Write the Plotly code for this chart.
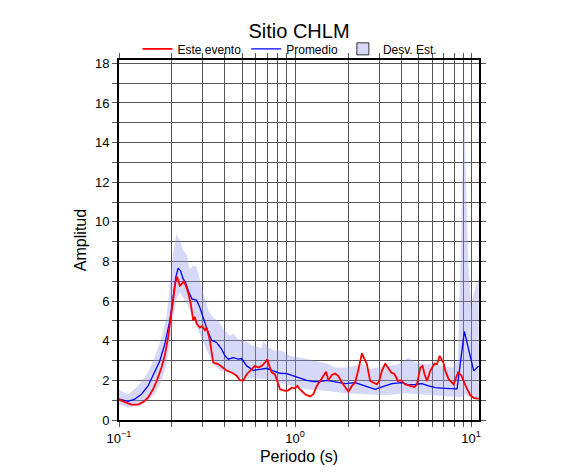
import plotly.graph_objects as go

# ---- Data ----
evento_T = [0.1, 0.1078, 0.1177, 0.1283, 0.1369, 0.1462, 0.1561, 0.1633, 0.1743, 0.1820,
            0.1900, 0.1970, 0.2029, 0.2094, 0.2139, 0.2216, 0.2266, 0.2335, 0.2397, 0.2470,
            0.2559, 0.2638, 0.2697, 0.2758, 0.2880, 0.2968, 0.3075, 0.3144, 0.3283, 0.3357,
            0.3428, 0.3660, 0.3907, 0.4087, 0.4363, 0.4658, 0.4864, 0.5080, 0.5311, 0.5670,
            0.5921, 0.6182, 0.6464, 0.675, 0.6957, 0.7141, 0.7370, 0.7695, 0.7932, 0.8216,
            0.8772, 0.9161, 0.9577, 1.0, 1.031, 1.068, 1.140, 1.2175, 1.271, 1.329,
            1.388, 1.449, 1.501, 1.547, 1.618, 1.689, 1.764, 1.845, 1.926, 2.011,
            2.102, 2.195, 2.293, 2.397, 2.480, 2.559, 2.672, 2.790, 2.917, 3.007,
            3.116, 3.252, 3.370, 3.520, 3.676, 3.843, 4.013, 4.227, 4.513, 4.775,
            4.927, 5.145, 5.303, 5.444, 5.618, 5.865, 6.207, 6.405, 6.628, 6.955,
            7.14, 7.455, 7.96, 8.43, 8.81, 9.28, 9.91, 10.35, 11.05]
evento_A = [1.04, 0.9, 0.78, 0.78, 0.9, 1.13, 1.55, 1.94, 2.65, 3.26,
            4.16, 5.17, 6.19, 6.95, 7.23, 6.78, 6.86, 7.0, 6.78, 6.44,
            5.85, 5.03, 5.2, 4.87, 4.67, 4.75, 4.53, 4.67, 4.02, 3.4,
            2.9, 2.82, 2.65, 2.5, 2.4, 2.24, 2.0, 2.0, 2.31, 2.56,
            2.73, 2.65, 2.73, 2.9, 3.07, 2.73, 2.4, 2.3, 1.97, 1.55,
            1.47, 1.5, 1.63, 1.6, 1.72, 1.55, 1.3, 1.19, 1.3, 1.72,
            1.97, 2.22, 2.43, 2.0, 2.27, 2.35, 2.22, 1.89, 1.63, 1.43,
            1.72, 1.89, 2.56, 3.36, 3.07, 2.82, 1.97, 1.89, 1.8, 1.97,
            2.48, 2.85, 2.65, 2.4, 2.31, 1.97, 2.0, 1.8, 1.72, 1.67,
            1.8, 2.65, 2.73, 2.31, 1.97, 2.48, 2.85, 2.82, 3.24, 2.9,
            2.48, 2.06, 1.8, 2.4, 2.25, 1.75, 1.24, 1.12, 1.07]

promedio_T = [0.1, 0.1125, 0.1228, 0.1341, 0.1462, 0.1596, 0.1704, 0.1820, 0.1943, 0.2029,
              0.2102, 0.2166, 0.2235, 0.2313, 0.2387, 0.2493, 0.2603, 0.2758, 0.2880, 0.3007,
              0.3185, 0.3357, 0.3584, 0.3827, 0.3997, 0.4173, 0.4455, 0.4757, 0.4975, 0.5311,
              0.5790, 0.6322, 0.6902, 0.7525, 0.8216, 0.8971, 0.9779, 1.068, 1.166, 1.271,
              1.388, 1.515, 1.689, 1.926, 2.195, 2.503, 2.853, 3.116, 3.552, 4.050,
              4.415, 4.819, 5.262, 5.737, 6.26, 7.14, 8.325, 9.16, 10.35, 11.05]
promedio_A = [1.05, 0.94, 1.05, 1.3, 1.72, 2.4, 2.98, 3.83, 5.0, 6.19,
              7.2, 7.66, 7.54, 7.12, 6.95, 6.44, 6.1, 6.05, 5.68, 5.17,
              4.5, 4.03, 3.91, 3.58, 3.24, 3.07, 3.15, 3.07, 3.1, 2.73,
              2.51, 2.56, 2.61, 2.48, 2.36, 2.34, 2.22, 2.1, 2.0, 1.94,
              1.94, 2.0, 1.94, 1.84, 1.89, 1.72, 1.55, 1.67, 1.84, 1.89,
              1.77, 1.8, 1.84, 1.72, 1.63, 1.6, 1.57, 4.47, 2.48, 2.73]

desv_sup_T = [0.1, 0.1125, 0.1283, 0.1462, 0.1596, 0.1743, 0.1861, 0.1943, 0.2029, 0.2122,
              0.2216, 0.2313, 0.2419, 0.2526, 0.2638, 0.2758, 0.2880, 0.3007, 0.3210, 0.3428,
              0.3660, 0.3907, 0.3997, 0.4267, 0.4455, 0.4757, 0.5194, 0.5790, 0.6464, 0.660,
              0.7047, 0.7695, 0.840, 0.9366, 1.068, 1.191, 1.329, 1.515, 1.689, 1.926,
              2.195, 2.397, 2.614, 2.980, 3.396, 3.871, 4.415, 4.819, 5.49, 6.26,
              7.14, 7.83, 8.43, 8.69, 8.96, 9.16, 9.28, 9.62, 10.04, 10.35, 11.05]
desv_sup_A = [1.5, 1.3, 1.72, 2.4, 3.15, 4.16, 5.17, 6.7, 8.38, 9.39,
              9.05, 8.55, 8.38, 7.62, 7.8, 7.73, 7.05, 6.44, 5.54, 5.17,
              5.0, 4.67, 4.5, 4.25, 4.36, 4.08, 4.0, 3.74, 3.63, 4.0,
              3.66, 3.49, 3.49, 3.24, 3.15, 3.07, 2.95, 2.85, 2.65, 2.65,
              2.73, 2.85, 2.56, 2.65, 2.73, 2.82, 3.15, 2.9, 2.82, 2.82,
              2.7, 2.65, 3.0, 8.07, 13.1, 16.47, 13.1, 8.07, 5.54, 6.37, 7.2]

desv_inf_T = [0.1, 0.1125, 0.1283, 0.1462, 0.1596, 0.1743, 0.1861, 0.1943, 0.2029, 0.2122,
              0.2216, 0.2313, 0.2419, 0.2526, 0.2697, 0.2880, 0.3075, 0.3283, 0.3506, 0.3743,
              0.4267, 0.4864, 0.5790, 0.6902, 0.8216, 0.9779, 1.166, 1.388, 1.582, 1.926,
              2.503, 3.252, 4.227, 5.49, 7.14, 8.69, 9.28, 9.91, 11.05]
desv_inf_A = [0.8, 0.63, 0.73, 0.98, 1.3, 1.97, 2.82, 3.83, 5.17, 6.1,
              6.44, 6.19, 5.94, 5.52, 5.0, 4.33, 3.74, 3.15, 2.73, 2.5,
              2.4, 2.14, 2.1, 2.06, 1.89, 1.72, 1.55, 1.5, 1.45, 1.35,
              1.3, 1.25, 1.35, 1.3, 1.2, 1.15, 1.3, 1.15, 1.05]

x_tickvals = [0.1, 1, 10]
x_ticktext = ["10<sup>\u22121</sup>", "10<sup>0</sup>", "10<sup>1</sup>"]
x_minor = [0.2, 0.3, 0.4, 0.5, 0.6, 0.7, 0.8, 0.9, 2, 3, 4, 5, 6, 7, 8, 9]

FONT = "Liberation Sans, Arial, Helvetica, sans-serif"
BAND = "rgba(150,150,235,0.38)"

fig = go.Figure()

fig.add_trace(go.Scatter(
    x=desv_sup_T + desv_inf_T[::-1],
    y=desv_sup_A + desv_inf_A[::-1],
    fill="toself", fillcolor=BAND, line=dict(width=0),
    mode="lines", showlegend=False, hoverinfo="skip"))

fig.add_trace(go.Scatter(x=promedio_T, y=promedio_A, mode="lines",
                         line=dict(color="#0000ff", width=1.3),
                         name="Promedio", legendrank=2))
fig.add_trace(go.Scatter(x=evento_T, y=evento_A, mode="lines",
                         line=dict(color="#ff0000", width=1.8),
                         name="Este evento", legendrank=1))
# legend entry for the band
fig.add_trace(go.Scatter(x=[None], y=[None], mode="markers",
                         marker=dict(symbol="square", size=12, color="#d8d8f8",
                                     line=dict(color="#333333", width=1)),
                         name="Desv. Est.", legendrank=3))

grid = "#555555"
fig.update_layout(
    width=586, height=475,
    margin=dict(l=119, r=107, t=60, b=55),
    paper_bgcolor="white", plot_bgcolor="white",
    font=dict(family=FONT, color="black", size=13),
    title=dict(text="Sitio CHLM", x=0.5, xref="paper", xanchor="center",
               y=1 - 31 / 475, yanchor="middle", font=dict(size=20)),
    legend=dict(orientation="h", x=0.475, xanchor="center", y=1.031, yanchor="middle",
                font=dict(size=12), bgcolor="rgba(0,0,0,0)", itemwidth=30,
                tracegroupgap=0),
    showlegend=True,
)

fig.update_xaxes(
    type="log", range=[-1, 1.045],
    tickvals=x_tickvals, ticktext=x_ticktext,
    ticks="outside", ticklen=5, tickwidth=1, tickcolor="#555555",
    showline=True, linewidth=2, linecolor="black", mirror="ticks",
    showgrid=True, gridcolor=grid, gridwidth=1,
    minor=dict(tickvals=x_minor, ticks="outside", ticklen=5, tickcolor="#555555",
               showgrid=True, gridcolor=grid, gridwidth=1),
    zeroline=False,
    title=dict(text="Periodo (s)", font=dict(size=16), standoff=6),
    tickfont=dict(size=13),
)
fig.update_yaxes(
    range=[0, 18.17], dtick=2, tick0=0,
    ticks="outside", ticklen=5, tickwidth=1, tickcolor="#555555",
    showline=True, linewidth=2, linecolor="black", mirror="ticks",
    showgrid=True, gridcolor=grid, gridwidth=1,
    minor=dict(dtick=1, tick0=0, ticks="outside", ticklen=5, tickcolor="#555555",
               showgrid=True, gridcolor=grid, gridwidth=1),
    zeroline=False,
    title=dict(text="Amplitud", font=dict(size=16), standoff=4),
    tickfont=dict(size=13),
)

fig.write_html("out.html",
               config={"displayModeBar": False},
               post_script="document.body.style.margin='0';document.body.style.overflow='hidden';")
